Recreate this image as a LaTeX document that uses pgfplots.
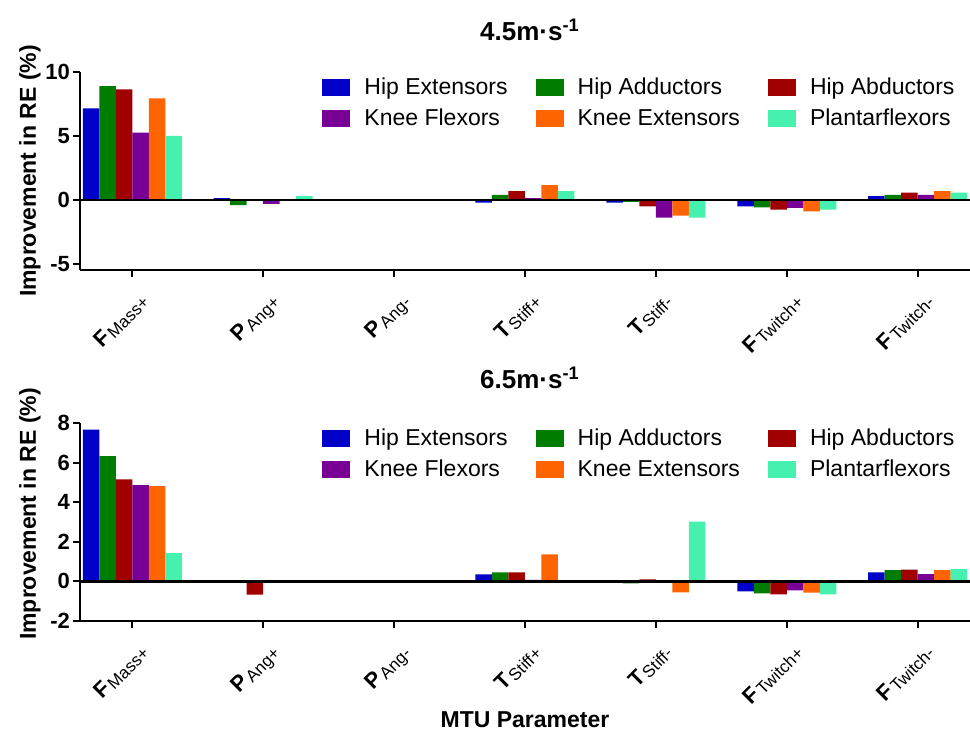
\documentclass[border=0pt]{standalone}
\usepackage{fontspec}
\setmainfont{Liberation Sans}
\usepackage{pgfplots}
\usepackage{pgfplotstable}
\pgfplotsset{compat=1.18}

\definecolor{cHE}{RGB}{0,0,200}
\definecolor{cHAd}{RGB}{0,125,0}
\definecolor{cHAb}{RGB}{160,0,0}
\definecolor{cKF}{RGB}{120,0,150}
\definecolor{cKE}{RGB}{255,100,0}
\definecolor{cPF}{RGB}{70,240,175}

% 4.5 m/s
\pgfplotstableread{
x he had hab kf ke pf
0 7.16 8.90 8.65 5.26 7.94 5.00
1 0.15 -0.40 -0.05 -0.30 -0.05 0.30
2 0 0 0 0 0 0
3 -0.20 0.40 0.70 0.15 1.17 0.70
4 -0.20 -0.15 -0.50 -1.38 -1.22 -1.38
5 -0.50 -0.57 -0.75 -0.62 -0.88 -0.75
6 0.30 0.40 0.57 0.40 0.70 0.57
}\dataA

% 6.5 m/s
\pgfplotstableread{
x he had hab kf ke pf
0 7.66 6.33 5.15 4.86 4.81 1.43
1 0.05 0.02 -0.67 0.07 0.02 0.03
2 0 0 0 0 0 0
3 0.35 0.46 0.46 0.08 1.37 0.02
4 -0.05 -0.10 0.10 0.07 -0.55 3.02
5 -0.50 -0.60 -0.65 -0.45 -0.57 -0.65
6 0.46 0.57 0.60 0.37 0.57 0.62
}\dataB

\newcommand{\lab}[2]{\textbf{#1}\kern0.8pt\raisebox{-1pt}{\fontsize{8.5}{9}\selectfont #2}}

\pgfplotsset{
  mystyle/.style={
    scale only axis, width=445pt, height=99pt,
    xmin=-0.4, xmax=6.4,
    axis x line=bottom, axis y line=left,
    axis line style={-, line width=1pt, black},
    ybar=0pt, bar width=8.25pt,
    tick align=outside, major tick length=3.5pt,
    every tick/.style={line width=1pt, black},
    xtick={0,1,2,3,4,5,6},
    xticklabels={{\lab{F}{Mass+}},{\lab{P}{Ang+}},{\lab{P}{Ang-}},{\lab{T}{Stiff+}},{\lab{T}{Stiff-}},{\lab{F}{Twitch+}},{\lab{F}{Twitch-}}},
    xticklabel style={rotate=45, anchor=north east, font=\fontsize{11}{13}\selectfont, inner sep=1pt, yshift=-6pt, xshift=-2pt},
    yticklabel style={font=\bfseries\fontsize{11}{13}\selectfont, xshift=2pt},
    /pgf/number format/assume math mode=true,
    legend columns=3,
    legend cell align=left,
    legend style={draw=none, fill=none, inner sep=0pt,
      at={(rel axis cs:0.272,0.99)}, anchor=north west,
      font=\fontsize{11.5}{14}\selectfont,
      cells={anchor=west},
      nodes={inner sep=1pt, text height=9pt, text depth=2.5pt},
      row sep=2pt,
      /tikz/every odd column/.append style={column sep=6pt},
      /tikz/every even column/.append style={column sep=13pt}},
    legend image code/.code={\fill[##1] (0pt,-4.25pt) rectangle (14pt,4.25pt);},
  }
}

\begin{document}
\begin{tikzpicture}
\begin{axis}[mystyle, at={(0pt,0pt)}, anchor=south west,
  ymin=-5.47, ymax=10, ytick={-5,0,5,10}]
\addplot[fill=cHE, draw=none] table[x=x,y=he] {\dataA};
\addplot[fill=cHAd, draw=none] table[x=x,y=had] {\dataA};
\addplot[fill=cHAb, draw=none] table[x=x,y=hab] {\dataA};
\addplot[fill=cKF, draw=none] table[x=x,y=kf] {\dataA};
\addplot[fill=cKE, draw=none] table[x=x,y=ke] {\dataA};
\addplot[fill=cPF, draw=none] table[x=x,y=pf] {\dataA};
\legend{Hip Extensors, Hip Adductors, Hip Abductors, Knee Flexors, Knee Extensors, Plantarflexors}
\draw[black, line width=1.2pt] (axis cs:-0.4,0) -- (axis cs:6.4,0);
\end{axis}

\begin{axis}[mystyle, at={(0pt,-175.5pt)}, anchor=south west,
  ymin=-2, ymax=8, ytick={-2,0,2,4,6,8}]
\addplot[fill=cHE, draw=none] table[x=x,y=he] {\dataB};
\addplot[fill=cHAd, draw=none] table[x=x,y=had] {\dataB};
\addplot[fill=cHAb, draw=none] table[x=x,y=hab] {\dataB};
\addplot[fill=cKF, draw=none] table[x=x,y=kf] {\dataB};
\addplot[fill=cKE, draw=none] table[x=x,y=ke] {\dataB};
\addplot[fill=cPF, draw=none] table[x=x,y=pf] {\dataB};
\legend{Hip Extensors, Hip Adductors, Hip Abductors, Knee Flexors, Knee Extensors, Plantarflexors}
\draw[black, line width=1.2pt] (axis cs:-0.4,0) -- (axis cs:6.4,0);
\end{axis}

\node[font=\bfseries\fontsize{13}{15}\selectfont] at (225pt,120pt) {4.5m·s\textsuperscript{-1}};
\node[font=\bfseries\fontsize{13}{15}\selectfont] at (225pt,-54pt) {6.5m·s\textsuperscript{-1}};
\node[font=\bfseries\fontsize{11.5}{14}\selectfont, rotate=90] at (-25pt,49.5pt) {Improvement in RE (\%)};
\node[font=\bfseries\fontsize{11.5}{14}\selectfont, rotate=90] at (-25pt,-122pt) {Improvement in RE (\%)};
\node[font=\bfseries\fontsize{11.5}{14}\selectfont] at (222.5pt,-225pt) {MTU Parameter};

\pgfresetboundingbox
\path[use as bounding box] (-40pt,135pt) rectangle (445pt,-232.5pt);
\end{tikzpicture}
\end{document}
